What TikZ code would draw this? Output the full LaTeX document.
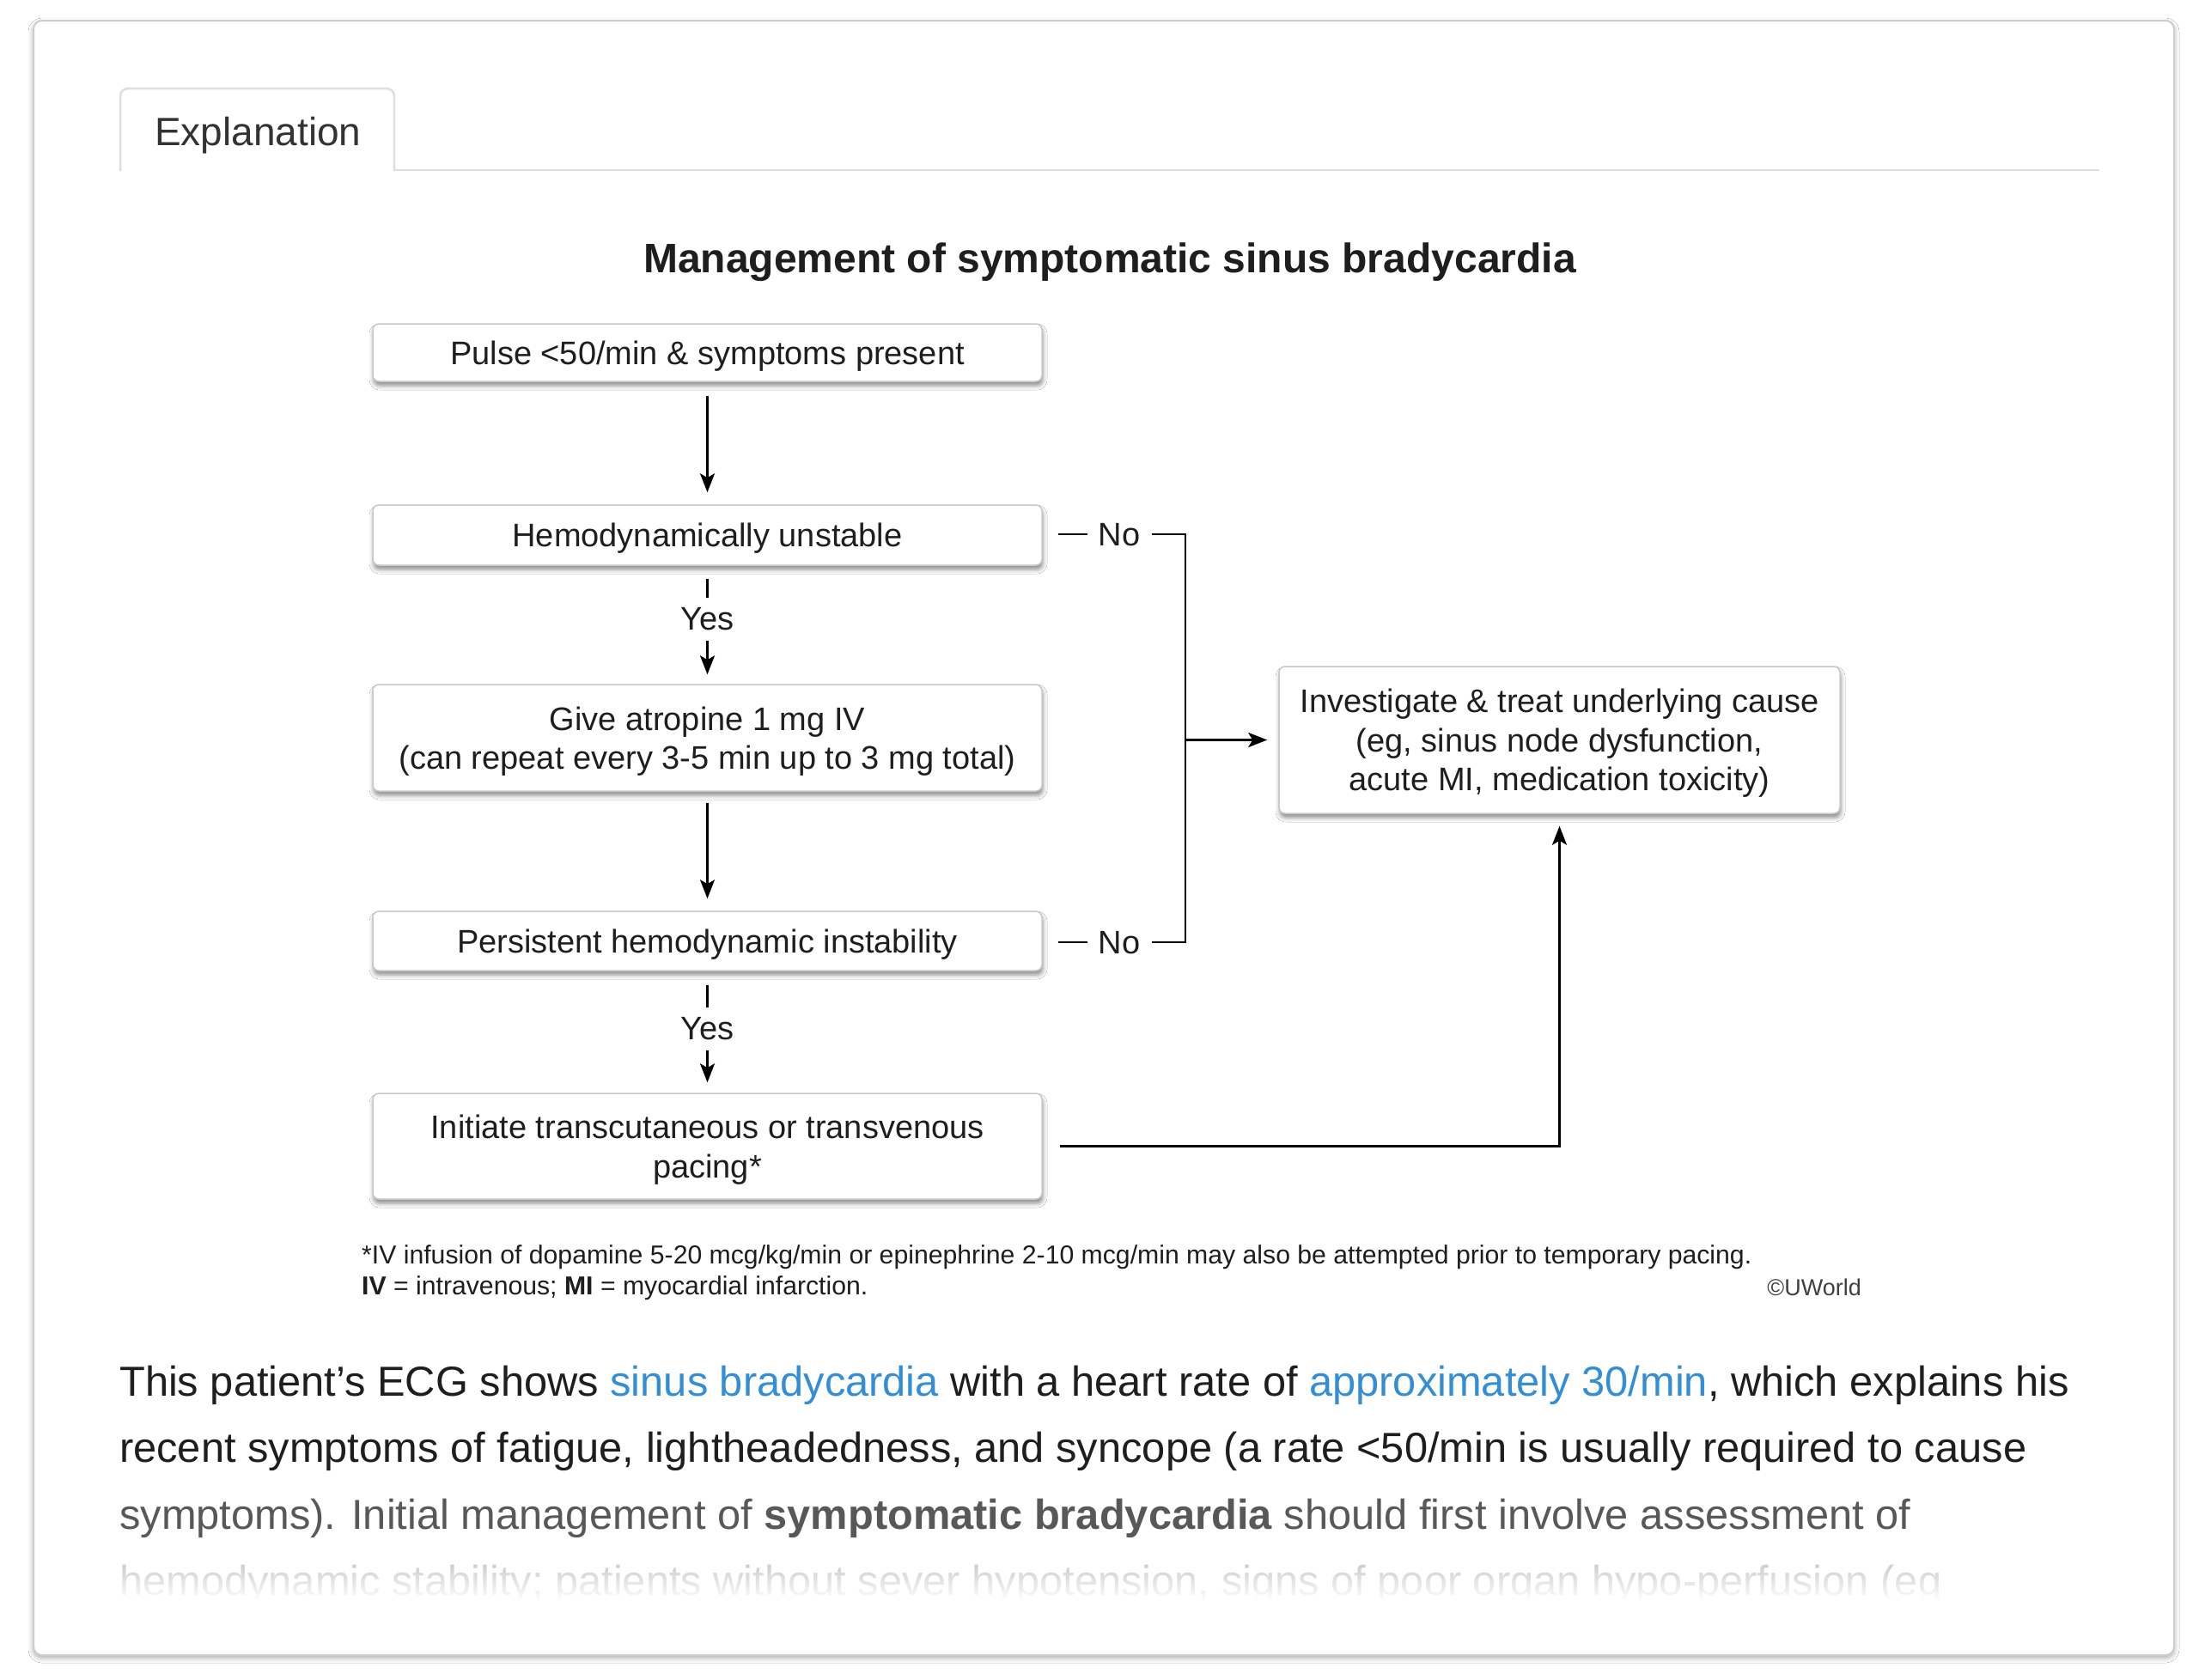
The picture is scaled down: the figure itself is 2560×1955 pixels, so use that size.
\documentclass[tikz,border=0pt]{standalone}
\usepackage{fontspec}
\setmainfont{Liberation Sans}
\usetikzlibrary{shadows,shadows.blur,arrows.meta,calc,fadings}
\definecolor{linkblue}{RGB}{52,142,214}
\definecolor{txt}{RGB}{30,30,30}
\definecolor{fade1}{RGB}{88,88,88}
\definecolor{fade2}{RGB}{195,195,195}
\definecolor{cardline}{RGB}{205,205,205}
\definecolor{tabline}{RGB}{222,222,222}
\tikzfading[name=fadedown, top color=transparent!100, bottom color=transparent!0]
\begin{document}
\begin{tikzpicture}[x=1pt,y=-1pt,
  fbox/.style={draw=black!22, line width=1.5pt, fill=white, rounded corners=7pt,
    minimum width=779pt, inner sep=0pt, align=center, text=txt, text depth=0pt,
    font=\fontsize{38}{45.5}\selectfont,
    blur shadow={shadow xshift=1pt, shadow yshift=-5pt, shadow blur radius=5pt, shadow opacity=45}},
  lbl/.style={inner sep=13pt, text=txt, font=\fontsize{38}{45}\selectfont},
  yeslbl/.style={inner sep=12pt, text=txt, font=\fontsize{38}{45}\selectfont},
  conn/.style={line width=2.7pt, draw=black},
  arr/.style={conn, -{Stealth[length=22pt, width=17pt, inset=5pt]}},
  para/.style={anchor=base west, inner sep=0pt, font=\fontsize{48.8}{56}\selectfont},
  foot/.style={anchor=base west, inner sep=0pt, text=txt, font=\fontsize{30.2}{34}\selectfont}
]
\useasboundingbox (0,0) rectangle (2560,1955);
\fill[white] (0,0) rectangle (2560,1955);
% card
\draw[draw=cardline, line width=2pt, fill=white, rounded corners=10pt,
  blur shadow={shadow xshift=0pt, shadow yshift=-3pt, shadow blur radius=6pt, shadow opacity=35}]
  (39,24) rectangle (2531,1927);
% tab
\draw[draw=tabline, line width=2.5pt, rounded corners=9pt] (140,199) -- (140,103) -- (459,103) -- (459,199);
\draw[draw=tabline, line width=2.5pt] (459,198) -- (2444,198);
\node[anchor=west, inner sep=0pt, text=black!80, font=\fontsize{46}{50}\selectfont] (tab) at (180,158) {Explanation};

% title
\node[inner sep=0pt, text=txt, font=\fontsize{48}{52}\selectfont\bfseries] (title) at (1292,305) {Management of symptomatic sinus bradycardia};

% boxes
\node[fbox, minimum height=67pt] (b1) at (823.5,410.5) {Pulse <50/min \& symptoms present};
\node[fbox, minimum height=70pt] (b2) at (823.5,623) {Hemodynamically unstable};
\node[fbox, minimum height=124pt] (b3) at (823.5,859) {Give atropine 1 mg IV\\(can repeat every 3-5 min up to 3 mg total)};
\node[fbox, minimum height=69pt] (b4) at (823.5,1095.5) {Persistent hemodynamic instability};
\node[fbox, minimum height=123pt] (b5) at (823.5,1334.5) {Initiate transcutaneous or transvenous\\pacing*};
\node[fbox, minimum width=653pt, minimum height=171pt] (b6) at (1815.5,861.5) {Investigate \& treat underlying cause\\(eg, sinus node dysfunction,\\acute MI, medication toxicity)};

% labels
\node[yeslbl] (yes1) at (823.5,721) {Yes};
\node[yeslbl] (yes2) at (823.5,1198) {Yes};
\node[lbl] (no1) at (1303,623) {No};
\node[lbl] (no2) at (1303,1098) {No};
\coordinate (j1) at (1380,622);
\coordinate (j2) at (1380,1097);

% connectors
\draw[arr, shorten <=16pt, shorten >=14pt] (b1.south) -- (b2.north);
\draw[conn, shorten <=15pt] (b2.south) -- (yes1.north);
\draw[arr, shorten >=11pt] (yes1.south) -- (b3.north);
\draw[arr, shorten <=13pt, shorten >=14pt] (b3.south) -- (b4.north);
\draw[conn, shorten <=16pt] (b4.south) -- (yes2.north);
\draw[arr, shorten >=12pt] (yes2.south) -- (b5.north);
\draw[conn, shorten <=18pt] (b2.east |- j1) -- (no1.west |- j1);
\draw[conn, shorten <=18pt] (b4.east |- j2) -- (no2.west |- j2);
\draw[conn] (no1.east |- j1) -- (j1) -- (j2) -- (no2.east |- j2);
\draw[arr, shorten >=13pt] (j1 |- b6.west) -- (b6.west);
\draw[arr, shorten <=20pt, shorten >=14pt] (b5.east) -| (b6.south);

% footnote
\node[foot] (fn1) at (421,1471) {*IV infusion of dopamine 5-20 mcg/kg/min or epinephrine 2-10 mcg/min may also be attempted prior to temporary pacing.};
\node[foot] (fn2) at (421,1507) {\textbf{IV} = intravenous; \textbf{MI} = myocardial infarction.};
\node[anchor=base east, inner sep=0pt, text=black!75, font=\fontsize{27}{30}\selectfont] (uw) at (2167,1508) {©UWorld};

% paragraph
\node[para, text=txt] (p1) at (139,1625) {This patient’s ECG shows \textcolor{linkblue}{sinus bradycardia} with a heart rate of \textcolor{linkblue}{approximately 30/min}, which explains his};
\node[para, text=txt] (p2) at (139,1702) {recent symptoms of fatigue, lightheadedness, and syncope (a rate <50/min is usually required to cause};
\node[para, text=fade1] (p3) at (139,1780) {symptoms). Initial management of \textbf{symptomatic bradycardia} should first involve assessment of};
\begin{scope}
\clip (100,1800) rectangle (2500,1862);
\node[para, text=fade2] (p4) at (139,1857) {hemodynamic stability; patients without sever hypotension, signs of poor organ hypo-perfusion (eg};
\fill[white, path fading=fadedown] (100,1812) rectangle (2500,1864);
\end{scope}
\end{tikzpicture}
\end{document}
